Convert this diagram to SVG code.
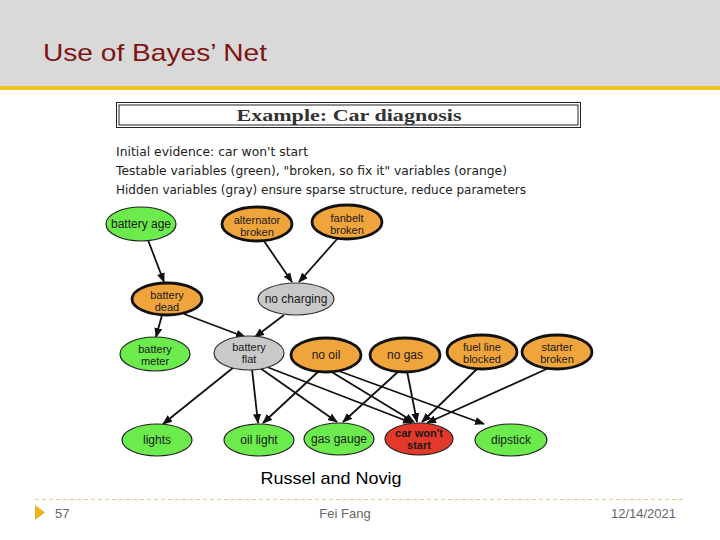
<svg xmlns="http://www.w3.org/2000/svg" width="720" height="540" viewBox="0 0 720 540">
<style>
.nl{font-family:"Liberation Sans",Arial,sans-serif;font-size:12px;fill:#1a1a1a;text-anchor:middle}
.nl2{font-family:"Liberation Sans",Arial,sans-serif;font-size:11px;fill:#1a1a1a;text-anchor:middle}
.g{fill:#6CEB4C;stroke:#222;stroke-width:1.2}
.o{fill:#F0A53C;stroke:#111;stroke-width:2.8}
.y{fill:#C9C9C9;stroke:#333;stroke-width:1.2}
.r{fill:#E2392B;stroke:#222;stroke-width:1.2}
.e{stroke:#111;stroke-width:1.8;fill:none;marker-end:url(#ah)}
.body{font-family:"DejaVu Sans","Liberation Sans",sans-serif;font-size:13px;fill:#222}
.foot{font-family:"Liberation Sans",Arial,sans-serif;font-size:13px;fill:#666}
</style>
<defs>
<marker id="ah" markerUnits="userSpaceOnUse" markerWidth="10" markerHeight="8" refX="9" refY="4" orient="auto">
<path d="M0,0 L10,4 L0,8 z" fill="#111"/>
</marker>
</defs>
<rect x="0" y="0" width="720" height="540" fill="#fff"/>
<g id="header">
<rect x="0" y="0" width="720" height="86" fill="#D9D9D9"/>
<rect x="0" y="86" width="720" height="4" fill="#F0C21E"/>
<text x="43" y="61" font-family="Liberation Sans,Arial,sans-serif" font-size="24" fill="#7E1414" textLength="224" lengthAdjust="spacingAndGlyphs">Use of Bayes’ Net</text>
</g>
<g id="titlebox">
<rect x="116.5" y="102.5" width="464" height="25" fill="none" stroke="#222" stroke-width="1"/>
<rect x="119" y="105" width="459" height="20" fill="none" stroke="#222" stroke-width="1"/>
<text x="349" y="121" font-family="Liberation Serif,serif" font-size="17" font-weight="bold" fill="#333" text-anchor="middle" textLength="225" lengthAdjust="spacingAndGlyphs">Example: Car diagnosis</text>
</g>
<g id="intro">
<text class="body" x="116" y="156" textLength="192" lengthAdjust="spacingAndGlyphs">Initial evidence: car won't start</text>
<text class="body" x="116" y="175" textLength="391" lengthAdjust="spacingAndGlyphs">Testable variables (green), "broken, so fix it" variables (orange)</text>
<text class="body" x="116" y="194" textLength="410" lengthAdjust="spacingAndGlyphs">Hidden variables (gray) ensure sparse structure, reduce parameters</text>
</g>
<g id="connectors">
<path class="e" d="M148,240 L164,282"/>
<path class="e" d="M264,241 L292,282"/>
<path class="e" d="M338,238 L299,282"/>
<path class="e" d="M162,315 L156,337"/>
<path class="e" d="M184,314 L245,337"/>
<path class="e" d="M284,315 L255,337"/>
<path class="e" d="M234,367 L163,424"/>
<path class="e" d="M252,369 L258,423"/>
<path class="e" d="M260,368 L337,422"/>
<path class="e" d="M267,367 L412,423"/>
<path class="e" d="M320,370 L263,423"/>
<path class="e" d="M330,371 L414,422"/>
<path class="e" d="M336,370 L484,424"/>
<path class="e" d="M400,370 L343,422"/>
<path class="e" d="M407,371 L417,422"/>
<path class="e" d="M478,368 L422,422"/>
<path class="e" d="M551,367 L427,423"/>
</g>
<g id="battery-age"><ellipse class="g" cx="141" cy="224" rx="35" ry="17"/><text class="nl" x="141" y="228">battery age</text></g>
<g id="alternator-broken"><ellipse class="o" cx="257" cy="224" rx="35" ry="17"/><text class="nl2" x="257" y="224">alternator</text><text class="nl2" x="257" y="236">broken</text></g>
<g id="fanbelt-broken"><ellipse class="o" cx="347" cy="222" rx="35" ry="17"/><text class="nl2" x="347" y="222">fanbelt</text><text class="nl2" x="347" y="234">broken</text></g>
<g id="battery-dead"><ellipse class="o" cx="167" cy="299" rx="35" ry="16"/><text class="nl2" x="167" y="299">battery</text><text class="nl2" x="167" y="311">dead</text></g>
<g id="no-charging"><ellipse class="y" cx="296" cy="299" rx="38" ry="16"/><text class="nl" x="296" y="303">no charging</text></g>
<g id="battery-meter"><ellipse class="g" cx="155" cy="354" rx="35" ry="17"/><text class="nl2" x="155" y="353">battery</text><text class="nl2" x="155" y="365">meter</text></g>
<g id="battery-flat"><ellipse class="y" cx="249" cy="353" rx="35" ry="17"/><text class="nl2" x="249" y="351">battery</text><text class="nl2" x="249" y="363">flat</text></g>
<g id="no-oil"><ellipse class="o" cx="326" cy="355" rx="35" ry="17"/><text class="nl" x="326" y="359">no oil</text></g>
<g id="no-gas"><ellipse class="o" cx="405" cy="355" rx="35" ry="17"/><text class="nl" x="405" y="359">no gas</text></g>
<g id="fuel-line-blocked"><ellipse class="o" cx="482" cy="352" rx="35" ry="17"/><text class="nl2" x="482" y="351">fuel line</text><text class="nl2" x="482" y="363">blocked</text></g>
<g id="starter-broken"><ellipse class="o" cx="557" cy="352" rx="35" ry="17"/><text class="nl2" x="557" y="351">starter</text><text class="nl2" x="557" y="363">broken</text></g>
<g id="lights"><ellipse class="g" cx="157" cy="440" rx="35" ry="16"/><text class="nl" x="157" y="444">lights</text></g>
<g id="oil-light"><ellipse class="g" cx="259" cy="440" rx="35" ry="16"/><text class="nl" x="259" y="444">oil light</text></g>
<g id="gas-gauge"><ellipse class="g" cx="339" cy="439" rx="35" ry="16"/><text class="nl" x="339" y="443">gas gauge</text></g>
<g id="car-wont-start"><ellipse class="r" cx="419" cy="439" rx="34" ry="16"/><text class="nl2" x="419" y="437" font-weight="bold" fill="#2a0a0a">car won't</text><text class="nl2" x="419" y="449" font-weight="bold" fill="#2a0a0a">start</text></g>
<g id="dipstick"><ellipse class="g" cx="511" cy="440" rx="36" ry="16"/><text class="nl" x="511" y="444">dipstick</text></g>
<g id="caption">
<text x="331" y="484" font-family="Liberation Sans,Arial,sans-serif" font-size="17" fill="#000" text-anchor="middle" textLength="141" lengthAdjust="spacingAndGlyphs">Russel and Novig</text>
</g>
<g id="footer">
<line x1="35" y1="499.5" x2="686" y2="499.5" stroke="#E6CF7A" stroke-width="1" stroke-dasharray="4,3"/>
<path d="M35,505 L45,512.5 L35,520 z" fill="#EDB422"/>
<text class="foot" x="55" y="518">57</text>
<text class="foot" x="345" y="518" text-anchor="middle">Fei Fang</text>
<text class="foot" x="676" y="518" text-anchor="end">12/14/2021</text>
</g>
</svg>
